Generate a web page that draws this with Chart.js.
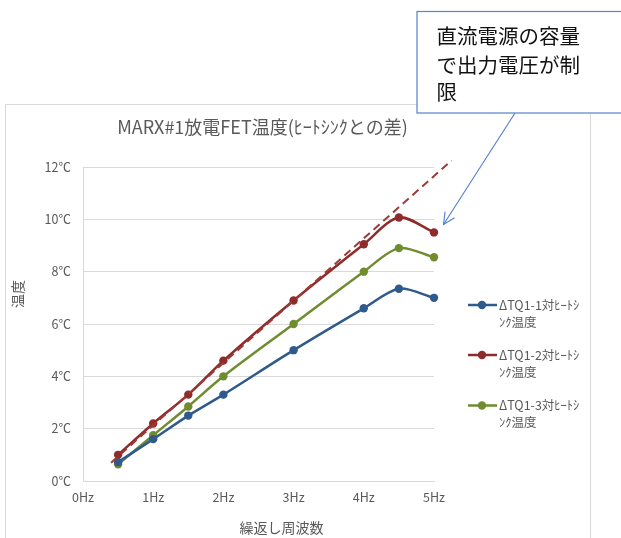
<!DOCTYPE html>
<html>
<head>
<meta charset="utf-8">
<script src="https://cdn.jsdelivr.net/npm/chart.js@4/dist/chart.umd.min.js"></script>
<style>
  html, body { margin: 0; padding: 0; background: #ffffff; }
  #wrap { position: relative; width: 621px; height: 538px; }
</style>
</head>
<body>
<div id="wrap"><canvas id="chart" width="621" height="538"></canvas></div>
<script>
// Repetition frequency (Hz) at which each temperature rise was measured
const frequencies = [0.5, 1, 1.5, 2, 3, 4, 4.5, 5];

// Temperature rise of each FET over the heat sink (°C)
const tq1Rise = [0.72, 1.6, 2.5, 3.3, 5.0, 6.6, 7.35, 7.0];
const tq2Rise = [1.0, 2.2, 3.3, 4.6, 6.9, 9.05, 10.07, 9.5];
const tq3Rise = [0.64, 1.75, 2.85, 4.0, 6.0, 8.0, 8.9, 8.55];

// Linear trend of TQ1-2 (start and end of the projected line)
const trendFreq = [0.4, 5.25];
const trendRise = [0.7, 12.25];

const seriesNames = ['ΔTQ1-1対ﾋｰﾄｼﾝｸ温度', 'ΔTQ1-2対ﾋｰﾄｼﾝｸ温度', 'ΔTQ1-3対ﾋｰﾄｼﾝｸ温度'];
const legendLines = [['ΔTQ1-1対ﾋｰﾄｼ', 'ﾝｸ温度'], ['ΔTQ1-2対ﾋｰﾄｼ', 'ﾝｸ温度'], ['ΔTQ1-3対ﾋｰﾄｼ', 'ﾝｸ温度']];
const chartTitle = 'MARX#1放電FET温度(ﾋｰﾄｼﾝｸとの差)';
const xAxisTitle = '繰返し周波数';
const yAxisTitle = '温度';
const noteLines = ['直流電源の容量', 'で出力電圧が制', '限'];
const freqTickUnit = 'Hz';
const tempTickUnit = '℃';

const seriesColors = ['#2f5a8c', '#8e2b2b', '#6f8c2f'];
const FONT = '"Noto Sans CJK JP", "Noto Sans", sans-serif';
const TEXT_GRAY = '#595959';

const toPoints = (xs, ys) => xs.map((x, i) => ({ x: x, y: ys[i] }));

const seriesData = [tq1Rise, tq2Rise, tq3Rise];
const datasets = seriesData.map((vals, i) => ({
  label: seriesNames[i],
  data: toPoints(frequencies, vals),
  borderColor: seriesColors[i],
  backgroundColor: seriesColors[i],
  borderWidth: 2.5,
  pointRadius: 4.2,
  pointHoverRadius: 4.2,
  pointBorderWidth: 0,
  tension: 0.3,
  fill: false,
  clip: false
}));
datasets.unshift({
  label: 'trend',
  data: toPoints(trendFreq, trendRise),
  borderColor: '#9c3a37',
  borderWidth: 2,
  borderDash: [8, 5],
  pointRadius: 0,
  tension: 0,
  fill: false,
  clip: false
});

// Outer frame of the chart
const framePlugin = {
  id: 'frame',
  beforeDraw(chart) {
    const ctx = chart.ctx;
    ctx.save();
    ctx.fillStyle = '#ffffff';
    ctx.fillRect(0, 0, chart.width, chart.height);
    ctx.strokeStyle = '#d9d9d9';
    ctx.lineWidth = 1;
    ctx.strokeRect(5.5, 104.5, 585, 460);
    ctx.restore();
  }
};

// Title, axis titles, legend and the annotation callout
const decorPlugin = {
  id: 'decor',
  afterDraw(chart) {
    const ctx = chart.ctx;
    ctx.save();

    // chart title
    ctx.fillStyle = TEXT_GRAY;
    ctx.font = '18px ' + FONT;
    ctx.textAlign = 'center';
    ctx.textBaseline = 'middle';
    ctx.fillText(chartTitle, 262.5, 127);

    // x axis title
    ctx.font = '14px ' + FONT;
    ctx.fillText(xAxisTitle, 281.5, 527.5);

    // y axis title (rotated)
    ctx.save();
    ctx.translate(18, 294);
    ctx.rotate(-Math.PI / 2);
    ctx.fillText(yAxisTitle, 0, 0);
    ctx.restore();

    // legend
    const legendTop = [305, 355, 405.5];
    for (let i = 0; i < 3; i++) {
      const ds = chart.data.datasets[i + 1];
      const y = legendTop[i];
      ctx.strokeStyle = ds.borderColor;
      ctx.lineWidth = 2.5;
      ctx.beginPath();
      ctx.moveTo(468, y);
      ctx.lineTo(497, y);
      ctx.stroke();
      ctx.fillStyle = ds.backgroundColor;
      ctx.beginPath();
      ctx.arc(482, y, 4.2, 0, Math.PI * 2);
      ctx.fill();
      ctx.fillStyle = TEXT_GRAY;
      ctx.font = '12.5px ' + FONT;
      ctx.textAlign = 'left';
      ctx.textBaseline = 'middle';
      ctx.fillText(legendLines[i][0], 499, y);
      ctx.fillText(legendLines[i][1], 499, y + 17);
    }

    // callout box
    ctx.fillStyle = '#ffffff';
    ctx.fillRect(417, 11, 210, 102);
    ctx.strokeStyle = '#5b86c8';
    ctx.lineWidth = 1.25;
    ctx.strokeRect(417, 11.5, 210, 101.5);
    ctx.fillStyle = '#111111';
    ctx.font = '20.5px ' + FONT;
    ctx.textAlign = 'left';
    ctx.textBaseline = 'middle';
    const noteY = [36, 65, 92];
    noteLines.forEach((t, i) => ctx.fillText(t, 436.5, noteY[i]));

    // arrow from the callout to the TQ1-2 drop
    const x0 = 515, y0 = 113, x1 = 443.5, y1 = 224.5;
    ctx.strokeStyle = '#4f7fc9';
    ctx.lineWidth = 1.1;
    ctx.beginPath();
    ctx.moveTo(x0, y0);
    ctx.lineTo(x1, y1);
    ctx.stroke();
    const ang = Math.atan2(y1 - y0, x1 - x0);
    const head = 13, spread = 0.45;
    ctx.beginPath();
    ctx.moveTo(x1 - head * Math.cos(ang - spread), y1 - head * Math.sin(ang - spread));
    ctx.lineTo(x1, y1);
    ctx.lineTo(x1 - head * Math.cos(ang + spread), y1 - head * Math.sin(ang + spread));
    ctx.stroke();

    ctx.restore();
  }
};

new Chart(document.getElementById('chart'), {
  type: 'line',
  data: { datasets: datasets },
  plugins: [framePlugin, decorPlugin],
  options: {
    responsive: false,
    animation: false,
    devicePixelRatio: 1,
    layout: { padding: { top: 167, right: 187, left: 0, bottom: 0 } },
    plugins: {
      legend: { display: false },
      title: { display: false },
      tooltip: { enabled: false }
    },
    scales: {
      x: {
        type: 'linear',
        min: 0,
        max: 5,
        afterFit(scale) { scale.height = 57; },
        ticks: {
          stepSize: 1,
          padding: 9,
          color: TEXT_GRAY,
          font: { family: FONT, size: 12.5 },
          callback: v => v + freqTickUnit
        },
        grid: { display: false, drawTicks: false },
        border: { display: true, color: '#d9d9d9', width: 1 }
      },
      y: {
        min: 0,
        max: 12,
        afterFit(scale) { scale.width = 83; },
        ticks: {
          stepSize: 2,
          padding: 12,
          color: TEXT_GRAY,
          font: { family: FONT, size: 12.5 },
          callback: v => v + tempTickUnit
        },
        grid: { color: '#d9d9d9', lineWidth: 1, drawTicks: false },
        border: { display: true, color: '#d9d9d9', width: 1 }
      }
    }
  }
});
</script>
</body>
</html>
